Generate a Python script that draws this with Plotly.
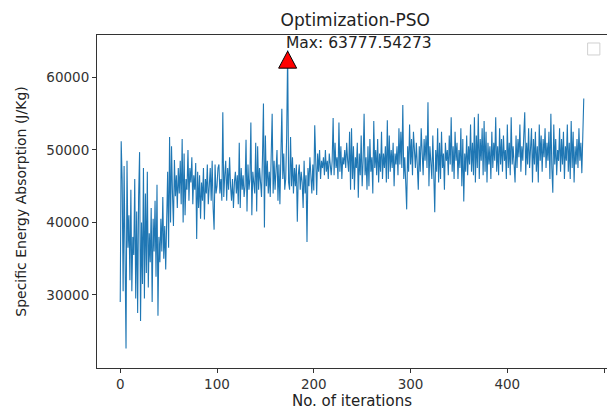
import plotly.graph_objects as go

iterations = list(range(480))

sea_values = [
    # 0-19
    29000, 51200, 45800, 30500, 47800, 34000, 22600, 48500, 36500, 41000, 32000, 44500, 30500, 38000, 35500, 46000, 29500, 41500, 27500, 43500,
    # 20-39
    49700, 26400, 40000, 31500, 47500, 29500, 44000, 33000, 47000, 31000, 38500, 34500, 42000, 29000, 40500, 36000, 43000, 32500, 45200, 27100,
    # 40-59
    38000, 34500, 40500, 36000, 43500, 35000, 39500, 33500, 41000, 47000, 36500, 51800, 40000, 50500, 44000, 39500, 48600, 43600, 46500, 42000,
    # 60-79
    47500, 44000, 48500, 42500, 51500, 40000, 49500, 41000, 46000, 44500, 50000, 43000, 47500, 45500, 49000, 42500, 46500, 44500, 48200, 37700,
    # 80-99
    47000, 42000, 46500, 40500, 45500, 43000, 47500, 40400, 46000, 44000, 48000, 42500, 45000, 47500, 43000, 48500, 42000, 39000, 48000, 44000,
    # 100-119
    45000, 47500, 48000, 44000, 46000, 43000, 55200, 43500, 46500, 48500, 43000, 47500, 44500, 49000, 45000, 43000, 46000, 42000, 45500, 47000,
    # 120-139
    44000, 46500, 42500, 51000, 42000, 47500, 44500, 46500, 43500, 45000, 51400, 41500, 48000, 44500, 46000, 53800, 41000, 47000, 45500, 44000,
    # 140-159
    51000, 41500, 50500, 44500, 47500, 46000, 43500, 49000, 56400, 39300, 52000, 45000, 48500, 44000, 47000, 43500, 49500, 55000, 44000, 48500,
    # 160-179
    44500, 46500, 50000, 43000, 48000, 42500, 47500, 55700, 46000, 49500, 44500, 46000, 52000, 63777.54273, 45500, 44500, 51800, 45000, 49000, 44000,
    # 180-199
    47500, 45000, 48000, 40100, 46500, 48000, 44500, 47000, 45500, 42000, 48500, 44000, 46500, 37300, 47500, 45000, 49000, 46500, 44000, 48000,
    # 200-219
    44400, 53400, 46000, 43800, 49500, 47000, 50000, 46000, 48500, 47500, 49000, 46500, 50000, 47000, 48500, 46000, 49500, 47500, 46500, 48500,
    # 220-239
    54400, 46500, 51000, 47500, 49000, 46000, 53800, 47000, 50500, 46000, 49000, 48000, 50000, 47500, 51000, 48500, 47000, 52500, 44500, 53000,
    # 240-259
    46000, 50500, 44500, 49000, 47500, 51000, 43400, 49500, 46500, 52000, 45000, 48500, 55000, 46500, 49000, 44500, 50500, 45000, 51500, 47000,
    # 260-279
    49000, 44000, 54000, 47500, 50000, 46500, 51500, 45500, 49500, 47000, 52500, 46000, 49500, 47500, 50500, 45500, 54100, 46000, 52000, 47000,
    # 280-299
    50000, 47500, 51000, 45000, 49500, 48000, 50500, 46500, 53000, 48000, 52500, 47500, 56200, 46000, 49000, 45500, 41800, 50500, 47000, 53500,
    # 300-319
    48000, 51500, 46500, 52500, 49000, 47500, 51000, 48000, 44500, 50500, 47000, 53000, 49000, 46500, 51500, 48500, 52000, 47500, 56600, 45000,
    # 320-339
    50500, 48000, 46000, 52000, 47500, 41400, 50000, 47000, 53000, 45500, 51000, 46000, 52500, 47500, 49500, 44500, 51000, 48500, 50000, 46500,
    # 340-359
    52000, 48000, 54500, 47000, 50500, 46000, 52500, 48500, 51000, 46000, 50000, 47500, 53000, 45000, 51500, 42900, 49500, 47000, 52000, 46500,
    # 360-379
    50500, 48000, 53500, 47000, 51000, 46500, 54500, 45500, 52000, 47500, 55000, 46000, 51500, 48500, 53000, 46500, 54000, 47000, 52500, 45500,
    # 380-399
    51000, 48000, 50500, 46000, 52500, 47500, 51000, 48500, 54500, 47000, 50500, 46500, 53000, 48000, 51500, 47000, 52000, 48500, 50000, 46000,
    # 400-419
    53500, 47500, 51000, 46500, 54500, 48000, 50500, 47000, 45500, 52000, 47500, 51500, 49000, 53500, 47000, 50500, 48500, 52000, 55200, 46500,
    # 420-439
    51000, 48000, 53000, 47500, 50500, 53000, 45500, 51500, 48000, 52500, 47000, 50500, 45500, 53500, 48500, 52000, 47000, 51500, 49000, 53000,
    # 440-459
    47500, 51000, 48500, 52500, 46000, 55000, 47500, 44100, 53500, 48000, 51500, 46500, 50000, 48500, 53000, 47000, 51500, 48000, 52500, 46000,
    # 460-479
    50500, 48500, 53500, 47000, 51000, 46000, 54000, 47500, 52500, 45500, 50500, 48000, 51500, 47500, 53000, 48500, 51000, 46800, 52000, 57100,
]

x_ticks = [0, 100, 200, 300, 400, 500]
y_ticks = [30000, 40000, 50000, 60000]

title_text = "Optimization-PSO"
x_label = "No. of iterations"
y_label = "Specific Energy Absorption (J/Kg)"

y_max = max(sea_values)
x_max = iterations[sea_values.index(y_max)]

FONT = "DejaVu Sans"

fig = go.Figure()
fig.add_trace(go.Scatter(
    x=iterations, y=sea_values, mode="lines",
    line=dict(color="#1f77b4", width=1.1),
    showlegend=False, hoverinfo="skip",
))

# red arrow-head style triangle with tip at the maximum
fig.add_shape(
    type="path", xref="x", yref="y",
    xsizemode="pixel", ysizemode="pixel",
    xanchor=x_max, yanchor=y_max,
    path="M 0 -1 L -9 -18 L 9 -18 Z",
    fillcolor="red", line=dict(color="black", width=1),
)

fig.add_annotation(
    x=x_max, y=y_max, xref="x", yref="y",
    text=f"Max: {y_max}", showarrow=False,
    xanchor="left", yanchor="bottom", xshift=-4, yshift=-4,
    font=dict(family=FONT, size=15.5, color="#222"),
)

# empty legend box (top right)
fig.add_shape(
    type="rect", xref="paper", yref="paper",
    x0=0.962, x1=0.986, y0=0.94, y1=0.976,
    line=dict(color="#d0d0d0", width=1), fillcolor="white",
)

axis_common = dict(
    showline=True, linecolor="#333", linewidth=1, mirror=True,
    ticks="outside", ticklen=4, tickcolor="#333", tickwidth=1,
    showgrid=False, zeroline=False, automargin=False,
    tickfont=dict(family=FONT, size=13.5, color="#333"),
)

# page body has an 8px margin, so the figure is sized to fit the window
fig.update_layout(
    width=607, height=408,
    margin=dict(l=89, r=8, t=27, b=48),
    paper_bgcolor="white", plot_bgcolor="white",
    title=dict(text=title_text, x=0.572, xanchor="center", y=0.971, yanchor="middle",
               font=dict(family=FONT, size=17, color="#222")),
    xaxis=dict(range=[-24, 503], tickvals=x_ticks, ticktext=[str(v) for v in x_ticks],
               title=dict(text=x_label, font=dict(family=FONT, size=15, color="#222"), standoff=3),
               **axis_common),
    yaxis=dict(range=[19900, 65870], tickvals=y_ticks, ticktext=[str(v) for v in y_ticks],
               title=dict(text=y_label, font=dict(family=FONT, size=14, color="#222"), standoff=16),
               **axis_common),
)

fig.write_html("out.html")
